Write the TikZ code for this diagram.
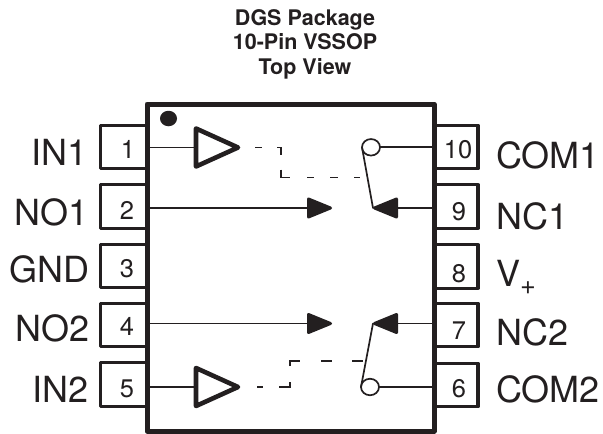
\documentclass[tikz,border=0pt]{standalone}
\usepackage{fontspec}
\setmainfont{TeX Gyre Heros}
\usetikzlibrary{shapes.geometric}
\definecolor{ink}{HTML}{231F20}
\newcommand{\fsz}[1]{\fontsize{#1}{#1}\selectfont}
\tikzset{
  pinbox/.style={draw=ink,line width=3.3pt,line join=round,fill=white,rectangle,minimum width=46.5pt,minimum height=43.5pt,inner sep=0pt,outer sep=0pt},
  pinnum/.style={text=ink,font=\fsz{25.5},anchor=base,inner sep=0pt},
  pinlabl/.style={text=ink,font=\fsz{36},anchor=base east,inner sep=0pt},
  pinlabr/.style={text=ink,font=\fsz{36},anchor=base west,inner sep=0pt},
  titletext/.style={text=ink,font=\bfseries\fsz{21.5},anchor=base,inner sep=0pt},
  buffer/.style={draw=ink,line width=4.6pt,line join=round,fill=white,isosceles triangle,isosceles triangle stretches,shape border rotate=0,minimum width=38pt,minimum height=42pt,inner sep=0pt,outer sep=0pt},
  wire/.style={draw=ink,line width=1.7pt},
  ctrl/.style={draw=ink,line width=1.5pt},
  lever/.style={draw=ink,line width=1.7pt,line cap=round},
  contact/.style={draw=ink,line width=1.7pt,fill=white,ellipse,minimum width=18pt,minimum height=16.5pt,inner sep=0pt,outer sep=0pt},
  head/.style={draw=ink,fill=ink,line width=3pt,line join=round},
}
\begin{document}
\begin{tikzpicture}[x=1pt,y=-1pt]
\useasboundingbox (0,0) rectangle (603,434);
% title
\node[titletext] (t1) at (305,25) {DGS Package};
\node[titletext] (t2) at (305,49.5) {10-Pin VSSOP};
\node[titletext] (t3) at (305,74) {Top View};
% pins
\foreach \n/\y in {1/147,2/206.5,3/266,4/325,5/384.5}{
  \node[pinbox] (p\n) at (123.75,\y) {};
}
\foreach \n/\y in {10/147,9/206.5,8/266.5,7/325,6/385}{
  \node[pinbox,minimum width=44pt] (p\n) at (456,\y) {};
}
% body
\node[draw=ink,line width=5pt,line join=round,fill=white,rectangle,minimum width=287pt,minimum height=327pt,inner sep=0pt,outer sep=0pt] (body) at (290.5,267.5) {};
\node[fill=ink,ellipse,minimum width=17pt,minimum height=15.5pt,inner sep=0pt] (dot) at (168.5,118.5) {};
% pin numbers
\node[pinnum] (n1) at (128,158) {1};
\node[pinnum] (n2) at (127,219) {2};
\node[pinnum] (n3) at (127,277) {3};
\node[pinnum] (n4) at (127,335) {4};
\node[pinnum] (n5) at (127,397) {5};
\node[pinnum] (n10) at (458,158) {10};
\node[pinnum] (n9) at (459,220) {9};
\node[pinnum] (n8) at (459,282) {8};
\node[pinnum] (n7) at (459,339) {7};
\node[pinnum] (n6) at (459,397) {6};
% pin labels
\node[pinlabl] (l1) at (88,165) {IN1};
\node[pinlabl] (l2) at (89,225) {NO1};
\node[pinlabl] (l3) at (90,282) {GND};
\node[pinlabl] (l4) at (90,341) {NO2};
\node[pinlabl] (l5) at (89,402) {IN2};
\node[pinlabr] (l10) at (496,168) {COM1};
\node[pinlabr] (l9) at (496,229.5) {NC1};
\node[pinlabr] (l8) at (496,286) {V{\fsz{27}\raisebox{-8.5pt}{+}}};
\node[pinlabr] (l7) at (496,345) {NC2};
\node[pinlabr] (l6) at (496,402) {COM2};
% buffers
\node[buffer,anchor=lower side] (b1) at (196,147.5) {};
\node[buffer,anchor=lower side] (b2) at (196,387) {};
% contacts
\node[contact] (c1) at (371,147.3) {};
\node[contact] (c2) at (370,387) {};
% coordinates
\coordinate (w1) at (147,147.5);
\coordinate (w2) at (147,208);
\coordinate (w4) at (147,323.5);
\coordinate (w5) at (147,387);
\coordinate (w10) at (434,147.3);
\coordinate (w9) at (434,208);
\coordinate (w7) at (434,323.5);
\coordinate (w6) at (434,387);
\coordinate (no1) at (308.5,208);
\coordinate (no2) at (308.5,323.5);
\coordinate (nc1) at (396.5,208);
\coordinate (nc2) at (396.5,323.5);
\coordinate (s1) at (373,208);
\coordinate (s2) at (373,323.5);
\coordinate (e1) at (360,177.5);
\coordinate (e2) at (363,361);
\coordinate (k1a) at (281,147.5);
\coordinate (k1b) at (281,177.5);
\coordinate (k2a) at (290,387);
\coordinate (k2b) at (290,361);
% wires
\draw[wire] (w1) -- (b1.lower side);
\draw[wire] (w5) -- (b2.lower side);
\draw[wire] (w2) -- (no1);
\draw[wire] (w4) -- (no2);
\draw[wire] (w9) -- (nc1);
\draw[wire] (w7) -- (nc2);
\draw[wire] (c1.east) -- (w10);
\draw[wire] (c2.east) -- (w6);
% arrowheads
\draw[head] (no1) -- ++(0,-9) -- (330.5,208) -- (308.5,217) -- cycle;
\draw[head] (no2) -- ++(0,-9) -- (330.5,323.5) -- (308.5,332.5) -- cycle;
\draw[head] (nc1) -- ++(0,-9) -- (374.5,208) -- (396.5,217) -- cycle;
\draw[head] (nc2) -- ++(0,-9) -- (374.5,323.5) -- (396.5,332.5) -- cycle;
% levers
\draw[lever] (c1.west) -- (s1);
\draw[lever] (c2.west) -- (s2);
% control lines
\draw[ctrl,dash pattern=on 0pt off 17pt on 7pt off 15pt on 11pt off 15pt on 17pt off 17pt on 7pt off 16pt on 8pt off 16pt on 7pt off 100pt] (b1.apex) -- (k1a) -- (k1b) -- (e1);
\draw[ctrl,dash pattern=on 0pt off 19pt on 6pt off 16pt on 16pt off 16pt on 15pt off 21pt on 11pt off 20pt on 11pt off 100pt] (b2.apex) -- (k2a) -- (k2b) -- (e2);
\end{tikzpicture}
\end{document}
